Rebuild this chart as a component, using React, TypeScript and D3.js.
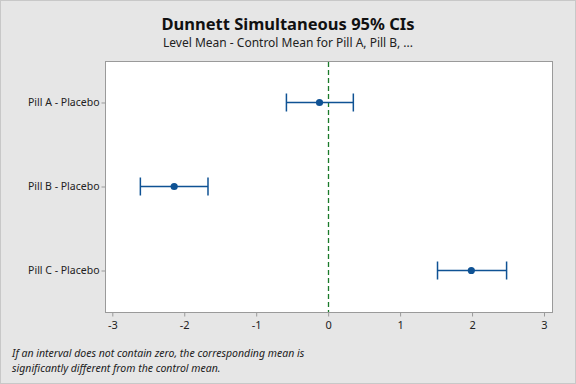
import React, { useRef, useEffect } from "react";
import * as d3 from "d3";

const categories = ["Pill A - Placebo", "Pill B - Placebo", "Pill C - Placebo"];
const centers = [-0.12, -2.14, 1.99];
const lowers = [-0.58, -2.61, 1.52];
const uppers = [0.35, -1.67, 2.48];
const xTicks = [-3, -2, -1, 0, 1, 2, 3];

const W = 576;
const H = 384;
const PLOT = { left: 105, top: 61, right: 552, bottom: 312 };
const FONT = "'Noto Sans', 'Open Sans', sans-serif";
const BLUE = "#0f5294";

export default function App() {
  const svgRef = useRef<SVGSVGElement | null>(null);

  useEffect(() => {
    if (!svgRef.current) return;
    const svg = d3.select(svgRef.current);
    svg.selectAll("*").remove();

    // background + frame
    svg.append("rect").attr("x", 0.5).attr("y", 0.5).attr("width", W - 1).attr("height", H - 1)
      .attr("fill", "#e6e6e6").attr("stroke", "#c8c8c8");

    svg.append("text").attr("x", W / 2).attr("y", 30).attr("text-anchor", "middle")
      .attr("font-family", FONT).attr("font-size", 16.5).attr("font-weight", "bold").attr("fill", "#111")
      .text("Dunnett Simultaneous 95% CIs");
    svg.append("text").attr("x", W / 2).attr("y", 47).attr("text-anchor", "middle")
      .attr("font-family", FONT).attr("font-size", 12).attr("fill", "#222")
      .text("Level Mean - Control Mean for Pill A, Pill B, ...");

    const x = d3.scaleLinear().domain([-3, 3]).range([112.3, 544]);
    const y = d3.scalePoint<string>().domain(categories).range([PLOT.top, PLOT.bottom]).padding(0.494);

    svg.append("rect").attr("x", PLOT.left + 0.5).attr("y", PLOT.top + 0.5)
      .attr("width", PLOT.right - PLOT.left).attr("height", PLOT.bottom - PLOT.top)
      .attr("fill", "#fff").attr("stroke", "#9a9a9a");

    // x axis
    const xa = svg.append("g").attr("transform", `translate(0,${PLOT.bottom + 0.5})`)
      .call(d3.axisBottom(x).tickValues(xTicks).tickSize(4).tickSizeOuter(0).tickFormat((d) => String(d)));
    xa.select(".domain").remove();
    xa.selectAll("line").attr("stroke", "#9a9a9a");
    xa.selectAll("text").attr("font-family", FONT).attr("font-size", 11).attr("fill", "#222").attr("dy", "0.85em");

    // y axis
    const ya = svg.append("g").attr("transform", `translate(${PLOT.left + 0.5},0)`)
      .call(d3.axisLeft(y).tickSize(4).tickSizeOuter(0));
    ya.select(".domain").remove();
    ya.selectAll("line").attr("stroke", "#9a9a9a");
    ya.selectAll("text").attr("font-family", FONT).attr("font-size", 10.5).attr("fill", "#222").attr("x", -6);

    // reference line at 0
    svg.append("line").attr("x1", Math.round(x(0)) + 0.5).attr("x2", Math.round(x(0)) + 0.5)
      .attr("y1", PLOT.top + 1).attr("y2", PLOT.bottom)
      .attr("stroke", "#1a7a2a").attr("stroke-width", 1.3).attr("stroke-dasharray", "5,3");

    const g = svg.append("g");
    categories.forEach((c, i) => {
      const cy = (y(c) ?? 0);
      g.append("line").attr("x1", x(lowers[i])).attr("x2", x(uppers[i])).attr("y1", cy).attr("y2", cy)
        .attr("stroke", BLUE).attr("stroke-width", 1.3);
      [lowers[i], uppers[i]].forEach((v) => {
        g.append("line").attr("x1", x(v)).attr("x2", x(v)).attr("y1", cy - 9).attr("y2", cy + 9)
          .attr("stroke", BLUE).attr("stroke-width", 1.5);
      });
      g.append("circle").attr("cx", x(centers[i])).attr("cy", cy).attr("r", 3.6).attr("fill", BLUE);
    });

    const foot = svg.append("text").attr("font-family", FONT).attr("font-size", 10.5)
      .attr("font-style", "italic").attr("fill", "#222");
    foot.append("tspan").attr("x", 12).attr("y", 357)
      .text("If an interval does not contain zero, the corresponding mean is");
    foot.append("tspan").attr("x", 12).attr("y", 372)
      .text("significantly different from the control mean.");
  }, []);

  return <svg ref={svgRef} width={W} height={H} style={{ display: "block", position: "absolute", left: 0, top: 0 }} />;
}
